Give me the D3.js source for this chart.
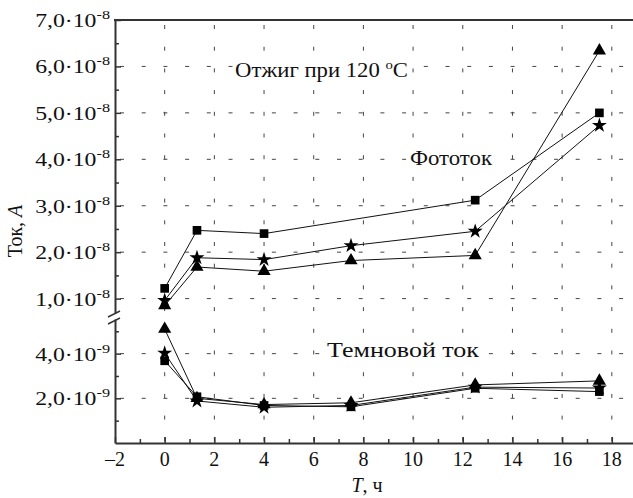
<!DOCTYPE html>
<html>
<head>
<meta charset="utf-8">
<title>Ток от времени отжига</title>
<script src="https://d3js.org/d3.v7.min.js"></script>
<style>
  body { margin: 0; background: #fff; }
  text { font-family: "Liberation Serif", "Times New Roman", serif; fill: #111; }
</style>
</head>
<body>
<div id="my_dataviz"></div>
<script>

// anneal time, hours
var hours = [0, 1.3, 4, 7.5, 12.5, 17.5];

// photocurrent (upper part of the broken axis), A
var photoSquare   = [1.22e-8, 2.47e-8, 2.40e-8, null,    3.12e-8, 5.00e-8];
var photoStar     = [0.96e-8, 1.88e-8, 1.84e-8, 2.14e-8, 2.45e-8, 4.73e-8];
var photoTriangle = [0.85e-8, 1.68e-8, 1.59e-8, 1.82e-8, 1.93e-8, 6.34e-8];

// dark current (lower part), A
var darkSquare    = [3.68e-9, 2.07e-9, 1.68e-9, 1.62e-9, 2.45e-9, 2.30e-9];
var darkStar      = [4.02e-9, 1.88e-9, 1.60e-9, 1.68e-9, 2.50e-9, 2.46e-9];
var darkTriangle  = [5.10e-9, 2.00e-9, 1.72e-9, 1.80e-9, 2.60e-9, 2.78e-9];

// ticks
var xTicks = [-2, 0, 2, 4, 6, 8, 10, 12, 14, 16, 18];
var xTickLabels = ["\u20132", "0", "2", "4", "6", "8", "10", "12", "14", "16", "18"];
var upperTicks = [1e-8, 2e-8, 3e-8, 4e-8, 5e-8, 6e-8, 7e-8];
var upperTickLabels = ["1,0\u00b710", "2,0\u00b710", "3,0\u00b710", "4,0\u00b710", "5,0\u00b710", "6,0\u00b710", "7,0\u00b710"];
var upperMinor = [1.5e-8, 2.5e-8, 3.5e-8, 4.5e-8, 5.5e-8, 6.5e-8];
var lowerTicks = [2e-9, 4e-9];
var lowerTickLabels = ["2,0\u00b710", "4,0\u00b710"];
var lowerMinor = [1e-9, 3e-9, 5e-9];

var width = 633, height = 498;
var plotLeft = 115, plotTop = 20, plotBottom = 443;

var svg = d3.select("#my_dataviz")
    .append("svg")
    .attr("width", width)
    .attr("height", height);

// scales: x runs off the right edge of the picture, y is broken in two
var x = d3.scaleLinear().domain([-2, 20]).range([plotLeft, 661.5]);
var yU = d3.scaleLinear().domain([0.69e-8, 7e-8]).range([313, plotTop]);
var yL = d3.scaleLinear().domain([0, 5.55e-9]).range([plotBottom, 319]);

// dashed grid
var grid = svg.append("g")
    .attr("stroke", "#444")
    .attr("stroke-width", 1)
    .attr("stroke-dasharray", "4,17.7");

grid.selectAll(".vgrid")
    .data(xTicks.slice(1))
    .enter().append("line")
    .attr("x1", function(d) { return x(d); })
    .attr("x2", function(d) { return x(d); })
    .attr("y1", plotTop)
    .attr("y2", plotBottom)
    .attr("stroke-dashoffset", -5);

grid.selectAll(".hgridU")
    .data(upperTicks.slice(0, 6))
    .enter().append("line")
    .attr("x1", plotLeft)
    .attr("x2", width)
    .attr("y1", function(d) { return yU(d); })
    .attr("y2", function(d) { return yU(d); })
    .attr("stroke-dashoffset", -5);

grid.selectAll(".hgridL")
    .data(lowerTicks)
    .enter().append("line")
    .attr("x1", plotLeft)
    .attr("x2", width)
    .attr("y1", function(d) { return yL(d); })
    .attr("y2", function(d) { return yL(d); })
    .attr("stroke-dashoffset", -5);

// annotations (white box behind the text hides the grid)
function note(tx, ty, len, parts) {
  var t = svg.append("text")
      .attr("x", tx)
      .attr("y", ty)
      .attr("textLength", len)
      .attr("lengthAdjust", "spacingAndGlyphs")
      .style("font-size", "20px");
  parts.forEach(function(p) {
    var s = t.append("tspan").text(p.t);
    if (p.sup) s.attr("dy", -8).style("font-size", "13px");
    if (p.back) s.attr("dy", 8);
  });
  var b = t.node().getBBox();
  svg.insert("rect", "text")
      .attr("x", b.x - 2).attr("y", b.y)
      .attr("width", b.width + 4).attr("height", b.height)
      .attr("fill", "#fff");
}
note(235, 77, 173, [{t: "Отжиг при 120 "}, {t: "o", sup: true}, {t: "С", back: true}]);
note(410, 165, 82, [{t: "Фототок"}]);
note(327, 357, 152, [{t: "Темновой ток"}]);

// axes
var axisColor = "#333";

svg.append("g")
    .attr("transform", "translate(0," + plotBottom + ")")
    .call(d3.axisBottom(x).tickValues(xTicks).tickSize(-6).tickSizeOuter(0).tickFormat(""));
svg.append("g")
    .attr("transform", "translate(0," + plotBottom + ")")
    .call(d3.axisBottom(x).tickValues(d3.range(-1, 20, 2)).tickSize(-4).tickSizeOuter(0).tickFormat(""))
    .select(".domain").remove();

svg.append("g")
    .attr("transform", "translate(" + plotLeft + ",0)")
    .call(d3.axisLeft(yU).tickValues(upperTicks).tickSize(-6).tickSizeOuter(0).tickFormat(""));
svg.append("g")
    .attr("transform", "translate(" + plotLeft + ",0)")
    .call(d3.axisLeft(yU).tickValues(upperMinor).tickSize(-4).tickSizeOuter(0).tickFormat(""))
    .select(".domain").remove();

svg.append("g")
    .attr("transform", "translate(" + plotLeft + ",0)")
    .call(d3.axisLeft(yL).tickValues(lowerTicks).tickSize(-6).tickSizeOuter(0).tickFormat(""));
svg.append("g")
    .attr("transform", "translate(" + plotLeft + ",0)")
    .call(d3.axisLeft(yL).tickValues(lowerMinor).tickSize(-4).tickSizeOuter(0).tickFormat(""))
    .select(".domain").remove();

svg.selectAll(".domain").attr("stroke", axisColor).attr("stroke-width", 2);
svg.selectAll(".tick line").attr("stroke", axisColor).attr("stroke-width", 1.5);

// top frame line
svg.append("line")
    .attr("x1", plotLeft - 1).attr("x2", width)
    .attr("y1", plotTop).attr("y2", plotTop)
    .attr("stroke", axisColor).attr("stroke-width", 2);

// axis break marks
[0, 7].forEach(function(o) {
  svg.append("line")
      .attr("x1", plotLeft - 7).attr("y1", yU.range()[0] + 4 + o)
      .attr("x2", plotLeft + 5).attr("y2", yU.range()[0] - 2 + o)
      .attr("stroke", axisColor).attr("stroke-width", 1.5);
});

// tick labels
svg.selectAll(".xlab")
    .data(xTicks)
    .enter().append("text")
    .attr("x", function(d) { return x(d); })
    .attr("y", 466)
    .attr("text-anchor", "middle")
    .style("font-size", "20px")
    .text(function(d, i) { return xTickLabels[i]; });

function yLabel(scale, value, label, exp) {
  var g = svg.append("g")
      .attr("transform", "translate(110," + (scale(value) + 7) + ") scale(1.25,1)");
  var t = g.append("text")
      .attr("text-anchor", "end")
      .style("font-size", "19px");
  t.append("tspan").text(label);
  t.append("tspan").attr("dy", -8).style("font-size", "13px").text(exp);
}
upperTicks.forEach(function(d, i) { yLabel(yU, d, upperTickLabels[i], "-8"); });
lowerTicks.forEach(function(d, i) { yLabel(yL, d, lowerTickLabels[i], "-9"); });

// axis titles
var yt = svg.append("text")
    .attr("transform", "translate(22,231) rotate(-90)")
    .attr("text-anchor", "middle")
    .style("font-size", "20px");
yt.append("tspan").text("Ток, ");
yt.append("tspan").style("font-style", "italic").text("A");

var xt = svg.append("text")
    .attr("x", 367)
    .attr("y", 492)
    .attr("text-anchor", "middle")
    .style("font-size", "20px");
xt.append("tspan").style("font-style", "italic").text("T");
xt.append("tspan").text(", ч");

// series
var series = [
  {vals: photoSquare,   y: yU, sym: d3.symbolSquare,   size: 75},
  {vals: photoStar,     y: yU, sym: d3.symbolStar,     size: 70},
  {vals: photoTriangle, y: yU, sym: d3.symbolTriangle, size: 75},
  {vals: darkSquare,    y: yL, sym: d3.symbolSquare,   size: 75},
  {vals: darkStar,      y: yL, sym: d3.symbolStar,     size: 70},
  {vals: darkTriangle,  y: yL, sym: d3.symbolTriangle, size: 75}
];

series.forEach(function(s) {
  var pts = hours.map(function(h, i) { return {h: h, v: s.vals[i]}; })
      .filter(function(d) { return d.v != null; });

  svg.append("path")
      .datum(pts)
      .attr("fill", "none")
      .attr("stroke", "#111")
      .attr("stroke-width", 1)
      .attr("d", d3.line()
        .x(function(d) { return x(d.h); })
        .y(function(d) { return s.y(d.v); }));

  svg.selectAll(null)
      .data(pts)
      .enter().append("path")
      .attr("transform", function(d) { return "translate(" + x(d.h) + "," + s.y(d.v) + ")"; })
      .attr("d", d3.symbol().type(s.sym).size(s.size))
      .attr("fill", "#000");
});

</script>
</body>
</html>
